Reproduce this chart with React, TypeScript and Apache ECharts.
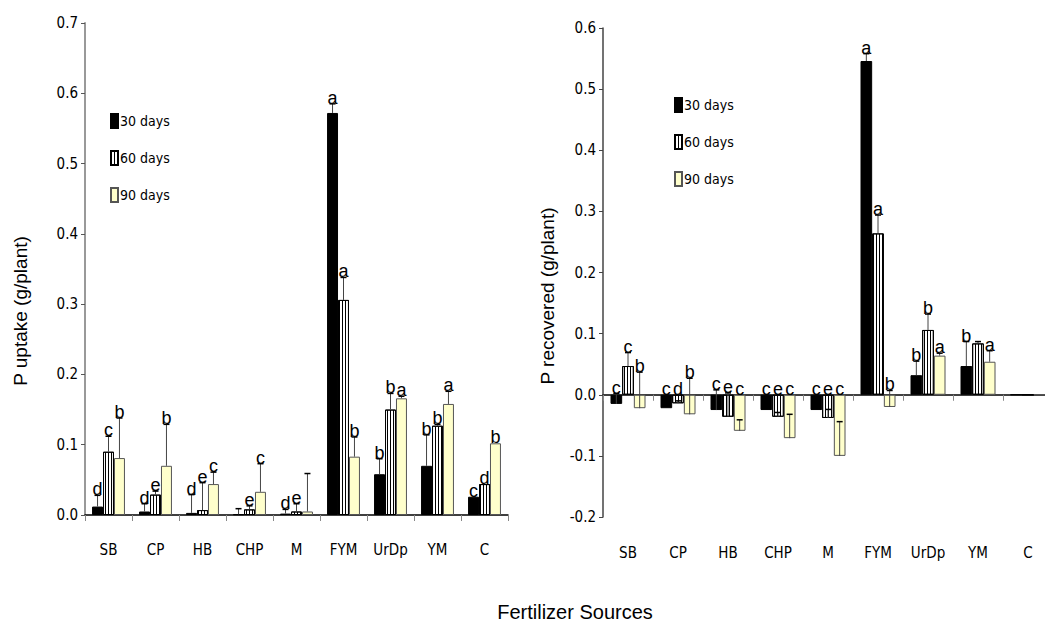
import React, { useEffect, useRef } from 'react';
import * as echarts from 'echarts';

const categories = ['SB', 'CP', 'HB', 'CHP', 'M', 'FYM', 'UrDp', 'YM', 'C'];
const periods = ['30 days', '60 days', '90 days'];
const uptakeTicks = [0, 0.7, 0.1];
const recoveredTicks = [-0.2, 0.6, 0.1];

// Left chart: P uptake (g/plant)
const uptake30 = [0.012, 0.005, 0.003, 0.001, 0.002, 0.572, 0.058, 0.070, 0.026];
const uptake30Err = [0.016, 0.011, 0.026, 0.008, 0.006, 0.013, 0.022, 0.044, 0];
const uptake30Letters = ['d', 'd', 'd', '', 'd', 'a', 'b', 'b', 'c'];
const uptake60 = [0.090, 0.029, 0.007, 0.008, 0.005, 0.306, 0.150, 0.127, 0.044];
const uptake60Err = [0.022, 0.005, 0.039, 0.005, 0.011, 0.032, 0.023, 0.002, 0];
const uptake60Letters = ['c', 'e', 'e', 'e', 'e', 'a', 'b', 'b', 'd'];
const uptake90 = [0.081, 0.070, 0.044, 0.033, 0.005, 0.083, 0.166, 0.158, 0.102];
const uptake90Err = [0.057, 0.059, 0.017, 0.040, 0.054, 0.028, 0.003, 0.018, 0];
const uptake90Letters = ['b', 'b', 'c', 'c', '', 'b', 'a', 'a', 'b'];

// Right chart: P recovered (g/plant)
const recovered30 = [-0.015, -0.022, -0.025, -0.025, -0.025, 0.546, 0.032, 0.047, 0];
const recovered30Err = [0.017, 0, 0.033, 0, 0, 0.012, 0.023, 0.040, 0];
const recovered30Letters = ['c', 'c', 'c', 'c', 'c', 'a', 'b', 'b', ''];
const recovered60 = [0.047, -0.014, -0.036, -0.036, -0.038, 0.264, 0.106, 0.084, 0];
const recovered60Err = [0.022, 0.004, 0.039, 0.007, 0.014, 0.030, 0.026, 0.003, 0];
const recovered60Letters = ['c', 'd', 'e', 'e', 'e', 'a', 'b', '', ''];
const recovered90 = [-0.022, -0.032, -0.059, -0.071, -0.100, -0.020, 0.064, 0.054, 0];
const recovered90Err = [0.059, 0.059, 0.018, 0.039, 0.056, 0.027, 0.004, 0.018, 0];
const recovered90Letters = ['b', 'b', 'c', 'c', 'c', 'b', 'a', 'a', ''];

const NARROW = "'Liberation Sans Narrow', 'DejaVu Sans Condensed', sans-serif";
const ARIAL = "'Liberation Sans', Arial, sans-serif";

const styles = [
  { color: '#000000', borderColor: '#000000', borderWidth: 1 },
  {
    color: '#ffffff',
    borderColor: '#000000',
    borderWidth: 1,
    decal: {
      symbol: 'rect',
      symbolSize: 1,
      color: '#000000',
      backgroundColor: '#ffffff',
      dashArrayX: [1, 2],
      dashArrayY: [4, 0],
      rotation: 0,
    },
  },
  { color: '#FFFFCC', borderColor: '#555555', borderWidth: 1 },
];

function barSeries(k: number, values: number[], axis: number, xAxisIndex: number) {
  return {
    type: 'bar',
    name: periods[k],
    xAxisIndex,
    yAxisIndex: axis,
    data: values,
    barGap: '0%',
    barCategoryGap: '30%',
    itemStyle: styles[k],
    z: 2,
  };
}

function errSeries(k: number, values: number[], errs: number[], letters: string[], axis: number, xAxisIndex: number) {
  return {
    type: 'custom',
    xAxisIndex,
    yAxisIndex: axis,
    silent: true,
    z: 5,
    encode: { x: 0, y: 1 },
    data: values.map((v, i) => [i, v, errs[i]]),
    renderItem: (params: any, api: any) => {
      const i = api.value(0);
      const v = api.value(1);
      const e = api.value(2);
      const band = api.size([1, 0])[0];
      const bw = (band * 0.7) / 3;
      const cx = api.coord([i, 0])[0] + (k - 1) * bw;
      const children: any[] = [];
      const top = v + e;
      if (e > 0) {
        const p1 = api.coord([i, v]);
        const p2 = api.coord([i, top]);
        children.push({
          type: 'line',
          shape: { x1: cx, y1: p1[1], x2: cx, y2: p2[1] },
          style: { stroke: '#444', lineWidth: 1 },
        });
        children.push({
          type: 'line',
          shape: { x1: cx - 3, y1: p2[1], x2: cx + 3, y2: p2[1] },
          style: { stroke: '#000', lineWidth: 1.5 },
        });
      }
      const letter = letters[params.dataIndex];
      if (letter) {
        const ly = api.coord([i, Math.max(0, v, top)])[1];
        children.push({
          type: 'text',
          x: cx,
          y: ly + 3,
          style: {
            text: letter,
            fill: '#000',
            fontSize: 18,
            fontFamily: 'Liberation Sans',
            align: 'center',
            verticalAlign: 'bottom',
          },
        });
      }
      return { type: 'group', children };
    },
  };
}

export default function App() {
  const ref = useRef<HTMLDivElement>(null);
  useEffect(() => {
    if (!ref.current) return;
    const chart = echarts.init(ref.current, undefined, { renderer: 'svg' });
    const tickLabel = {
      fontFamily: NARROW,
      fontSize: 15,
      color: '#000',
    };
    const legendBase = {
      orient: 'vertical',
      itemWidth: 7,
      itemHeight: 14,
      itemGap: 21,
      selectedMode: false,
      icon: 'rect',
      data: periods,
      textStyle: { fontFamily: NARROW, fontSize: 14, color: '#000', padding: [0, 0, 0, -3] },
    };
    const option: any = {
      animation: false,
      backgroundColor: '#ffffff',
      grid: [
        { left: 85, top: 23, width: 423, height: 492 },
        { left: 603, top: 28, width: 450, height: 489 },
      ],
      legend: [
        { ...legendBase, left: 105, top: 108 },
        { ...legendBase, left: 669, top: 92 },
      ],
      xAxis: [
        {
          type: 'category',
          gridIndex: 0,
          data: categories,
          axisLine: { lineStyle: { color: '#000', width: 1.5 } },
          axisTick: { show: true, length: 6, lineStyle: { color: '#888' } },
          axisLabel: { ...tickLabel, interval: 0, margin: 27 },
        },
        {
          type: 'category',
          gridIndex: 1,
          data: categories,
          axisLine: { onZero: true, lineStyle: { color: '#000', width: 1.5 } },
          axisTick: { show: true, length: 6, lineStyle: { color: '#888' } },
          axisLabel: { show: false },
        },
        {
          type: 'category',
          gridIndex: 1,
          data: categories,
          position: 'bottom',
          axisLine: { show: false, onZero: false },
          axisTick: { show: false },
          axisLabel: { ...tickLabel, interval: 0, margin: 28 },
        },
      ],
      yAxis: [
        {
          type: 'value',
          gridIndex: 0,
          min: uptakeTicks[0],
          max: uptakeTicks[1],
          interval: uptakeTicks[2],
          splitLine: { show: false },
          axisLine: { show: true, lineStyle: { color: '#999', width: 2 } },
          axisTick: { show: true, length: 4, lineStyle: { color: '#555' } },
          axisLabel: { ...tickLabel, margin: 7, formatter: (v: number) => v.toFixed(1) },
        },
        {
          type: 'value',
          gridIndex: 1,
          min: recoveredTicks[0],
          max: recoveredTicks[1],
          interval: recoveredTicks[2],
          splitLine: { show: false },
          axisLine: { show: true, lineStyle: { color: '#444', width: 1.5 } },
          axisTick: { show: true, length: 4, lineStyle: { color: '#444' } },
          axisLabel: { ...tickLabel, margin: 7, formatter: (v: number) => v.toFixed(1) },
        },
      ],
      graphic: [
        {
          type: 'text',
          x: 20,
          y: 311,
          rotation: Math.PI / 2,
          style: {
            text: 'P uptake (g/plant)',
            fontSize: 19,
            fontFamily: ARIAL,
            fill: '#000',
            align: 'center',
            verticalAlign: 'middle',
          },
        },
        {
          type: 'text',
          x: 547,
          y: 296,
          rotation: Math.PI / 2,
          style: {
            text: 'P recovered (g/plant)',
            fontSize: 19,
            fontFamily: ARIAL,
            fill: '#000',
            align: 'center',
            verticalAlign: 'middle',
          },
        },
        {
          type: 'text',
          x: 575,
          y: 612,
          style: {
            text: 'Fertilizer Sources',
            fontSize: 20,
            fontFamily: ARIAL,
            fill: '#000',
            align: 'center',
            verticalAlign: 'middle',
          },
        },
      ],
      series: [
        barSeries(0, uptake30, 0, 0),
        barSeries(1, uptake60, 0, 0),
        barSeries(2, uptake90, 0, 0),
        barSeries(0, recovered30, 1, 1),
        barSeries(1, recovered60, 1, 1),
        barSeries(2, recovered90, 1, 1),
        errSeries(0, uptake30, uptake30Err, uptake30Letters, 0, 0),
        errSeries(1, uptake60, uptake60Err, uptake60Letters, 0, 0),
        errSeries(2, uptake90, uptake90Err, uptake90Letters, 0, 0),
        errSeries(0, recovered30, recovered30Err, recovered30Letters, 1, 1),
        errSeries(1, recovered60, recovered60Err, recovered60Letters, 1, 1),
        errSeries(2, recovered90, recovered90Err, recovered90Letters, 1, 1),
      ],
    };
    chart.setOption(option);
    return () => chart.dispose();
  }, []);
  return (
    <div
      ref={ref}
      style={{ position: 'fixed', left: 0, top: 0, width: 1060, height: 623, background: '#fff' }}
    />
  );
}
